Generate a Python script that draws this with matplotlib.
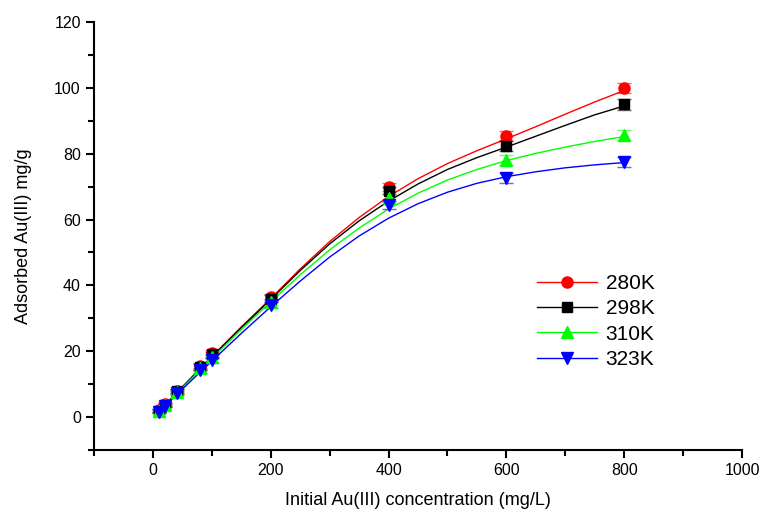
import matplotlib.pyplot as plt
from matplotlib.ticker import MultipleLocator
import numpy as np

plt.rcParams['font.family'] = ['Liberation Sans', 'DejaVu Sans']

# measured points
conc = [10, 20, 40, 80, 100, 200, 400, 600, 800]
q_280 = [2.0, 4.0, 8.0, 15.5, 19.5, 36.5, 70.0, 85.5, 100.0]
q_298 = [1.9, 3.8, 7.8, 15.2, 19.0, 36.0, 68.8, 82.3, 95.0]
q_310 = [1.8, 3.7, 7.5, 14.8, 18.3, 35.0, 66.5, 78.0, 85.6]
q_323 = [1.6, 3.4, 7.2, 14.2, 17.2, 34.0, 64.3, 72.5, 77.5]
err_280 = [0.5, 0.5, 0.6, 0.8, 0.8, 1.0, 1.2, 1.5, 1.6]
err_298 = [0.5, 0.5, 0.6, 0.8, 0.8, 1.0, 1.2, 1.5, 1.6]
err_310 = [0.5, 0.5, 0.6, 0.8, 0.8, 1.0, 1.2, 1.5, 1.6]
err_323 = [0.5, 0.5, 0.6, 0.8, 0.8, 1.0, 1.2, 1.5, 1.6]

# fitted curves
fit_x = [10, 50, 100, 150, 200, 250, 300, 350, 400, 450, 500, 550, 600, 650, 700, 750, 800]
fit_280 = [1.8, 9.2, 18.4, 27.4, 36.0, 45.0, 53.3, 60.6, 67.0, 72.4, 77.0, 80.9, 84.5, 88.2, 92.0, 95.7, 99.2]
fit_298 = [1.8, 9.1, 18.2, 27.1, 35.7, 44.5, 52.6, 59.6, 65.6, 70.8, 75.2, 78.8, 82.0, 85.3, 88.6, 91.8, 94.5]
fit_310 = [1.7, 8.9, 17.8, 26.6, 35.0, 43.2, 50.8, 57.4, 63.2, 68.0, 72.0, 75.2, 77.9, 80.1, 82.0, 83.7, 85.2]
fit_323 = [1.6, 8.5, 17.0, 25.4, 33.5, 41.3, 48.6, 55.0, 60.4, 64.8, 68.3, 71.0, 73.0, 74.5, 75.7, 76.6, 77.3]

labels = ['280K', '298K', '310K', '323K']
colors = ['#ff0000', '#000000', '#00ff00', '#0000ff']
markers = ['o', 's', '^', 'v']
msizes = [8, 6.5, 8, 8]

fig = plt.figure(figsize=(7.62, 5.16), dpi=100)
ax = fig.add_axes([0.1234, 0.128, 0.8504, 0.8294])

series = [(q_280, err_280, fit_280), (q_298, err_298, fit_298),
          (q_310, err_310, fit_310), (q_323, err_323, fit_323)]

handles = []
for i, (q, e, f) in enumerate(series):
    ax.errorbar(conc, q, yerr=e, fmt='none', ecolor=colors[i], elinewidth=1,
                capsize=5, capthick=1, alpha=0.6, zorder=2)
    ax.plot(conc, q, linestyle='none', marker=markers[i], color=colors[i],
            markersize=msizes[i], zorder=3)
    ax.plot(fit_x, f, color=colors[i], linewidth=1, zorder=2)
    h, = ax.plot([], [], color=colors[i], linewidth=1, marker=markers[i], markersize=msizes[i])
    handles.append(h)

ax.set_xlim(-100, 1000)
ax.set_ylim(-10, 120)
ax.xaxis.set_major_locator(MultipleLocator(200))
ax.xaxis.set_minor_locator(MultipleLocator(100))
ax.yaxis.set_major_locator(MultipleLocator(20))
ax.yaxis.set_minor_locator(MultipleLocator(10))
for s in ['top', 'right']:
    ax.spines[s].set_visible(False)
for s in ['left', 'bottom']:
    ax.spines[s].set_linewidth(1.5)
ax.tick_params(which='major', direction='out', length=6, width=1.5, labelsize=11.5)
ax.tick_params(which='minor', direction='out', length=4, width=1.5)

ax.set_xlabel('Initial Au(III) concentration (mg/L)', fontsize=13, labelpad=10)
ax.set_ylabel('Adsorbed Au(III) mg/g', fontsize=13, labelpad=16)

ax.legend(handles, labels, loc='upper left', bbox_to_anchor=(0.68, 0.505),
          bbox_transform=fig.transFigure, frameon=False, fontsize=15,
          numpoints=1, handlelength=2.9, labelspacing=0.3, handletextpad=0.4)

fig.savefig('out.png', dpi=100)
